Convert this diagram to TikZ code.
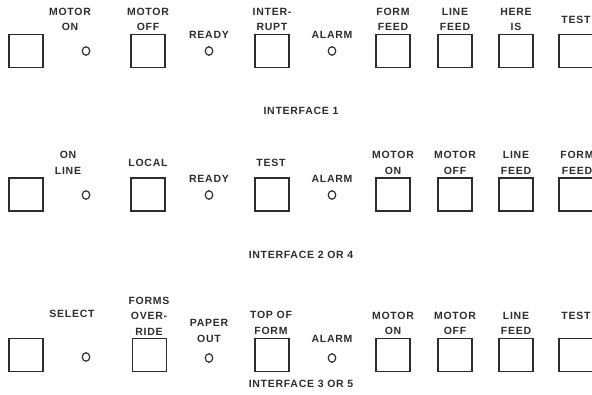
\documentclass[tikz,border=0pt]{standalone}
\usepackage{fontspec}
\setmainfont{Liberation Sans}[LetterSpace=7.0]
\usepackage{tikz}
\usetikzlibrary{positioning, shapes.geometric}
\definecolor{ink}{RGB}{45,45,45}

\begin{document}
\begin{tikzpicture}[x=1pt, y=-1pt,
    key/.style={draw=ink, line width=1.1pt, minimum width=34pt, minimum height=33pt, inner sep=0pt},
    lamp/.style={draw=ink, line width=1.2pt, ellipse, minimum width=7.5pt, minimum height=8.5pt, inner sep=0pt},
    lbl/.style={text=ink, align=center, inner sep=0pt, font=\fontsize{10.5}{15.5}\selectfont\bfseries},
    title/.style={lbl}]
    \useasboundingbox (0,0) rectangle (592,394);

    % ---- interface 1 (top row) ----
    \node[key] (k1a) at (26,51) {};
    \node[lbl] (t1b) at (70,19.5) {MOTOR\\ON};
    \node[lamp] (l1b) at (86,51) {};
    \node[key] (k1c) at (148,51) {};
    \node[lbl] (t1c) at (148,19.5) {MOTOR\\OFF};
    \node[lbl] (t1d) at (209,35) {READY};
    \node[lamp] (l1d) at (209,51) {};
    \node[key] (k1e) at (272,51) {};
    \node[lbl] (t1e) at (272,19.5) {INTER-\\RUPT};
    \node[lbl] (t1f) at (332,35) {ALARM};
    \node[lamp] (l1f) at (332,51) {};
    \node[key] (k1g) at (393,51) {};
    \node[lbl] (t1g) at (393,19.5) {FORM\\FEED};
    \node[key] (k1h) at (455,51) {};
    \node[lbl] (t1h) at (455,19.5) {LINE\\FEED};
    \node[key] (k1i) at (516,51) {};
    \node[lbl] (t1i) at (516,19.5) {HERE\\IS};
    \node[key] (k1j) at (576,51) {};
    \node[lbl] (t1j) at (576,20) {TEST};
    \node[title] (if1) at (301,111) {INTERFACE 1};

    % ---- interface 2 or 4 (middle row) ----
    \node[key] (k2a) at (26,194.5) {};
    \node[lbl] (t2b) at (68,163) {ON\\LINE};
    \node[lamp] (l2b) at (86,195) {};
    \node[key] (k2c) at (148,194.5) {};
    \node[lbl] (t2c) at (148,163) {LOCAL};
    \node[lbl] (t2d) at (209,179) {READY};
    \node[lamp] (l2d) at (209,195) {};
    \node[key] (k2e) at (272,194.5) {};
    \node[lbl] (t2e) at (271,163) {TEST};
    \node[lbl] (t2f) at (332,179) {ALARM};
    \node[lamp] (l2f) at (332,195) {};
    \node[key] (k2g) at (393,194.5) {};
    \node[lbl] (t2g) at (393,163) {MOTOR\\ON};
    \node[key] (k2h) at (455,194.5) {};
    \node[lbl] (t2h) at (455,163) {MOTOR\\OFF};
    \node[key] (k2i) at (516,194.5) {};
    \node[lbl] (t2i) at (516,163) {LINE\\FEED};
    \node[key] (k2j) at (576,194.5) {};
    \node[lbl] (t2j) at (577,163) {FORM\\FEED};
    \node[title] (if2) at (301,255) {INTERFACE 2 OR 4};

    % ---- interface 3 or 5 (bottom row) ----
    \node[key] (k3a) at (26,355) {};
    \node[lbl] (t3b) at (72,314) {SELECT};
    \node[lamp] (l3b) at (86,357) {};
    \node[key] (k3c) at (149.5,355) {};
    \node[lbl] (t3c) at (149,316) {FORMS\\OVER-\\RIDE};
    \node[lbl] (t3d) at (209,331) {PAPER\\OUT};
    \node[lamp] (l3d) at (209,358) {};
    \node[key] (k3e) at (272,355) {};
    \node[lbl] (t3e) at (271,323) {TOP OF\\FORM};
    \node[lbl] (t3f) at (332,339) {ALARM};
    \node[lamp] (l3f) at (332,358) {};
    \node[key] (k3g) at (393,355) {};
    \node[lbl] (t3g) at (393,323.5) {MOTOR\\ON};
    \node[key] (k3h) at (455,355) {};
    \node[lbl] (t3h) at (455,323.5) {MOTOR\\OFF};
    \node[key] (k3i) at (516,355) {};
    \node[lbl] (t3i) at (516,323.5) {LINE\\FEED};
    \node[key] (k3j) at (576,355) {};
    \node[lbl] (t3j) at (576,316) {TEST};
    \node[title] (if3) at (301,384) {INTERFACE 3 OR 5};
\end{tikzpicture}
\end{document}
